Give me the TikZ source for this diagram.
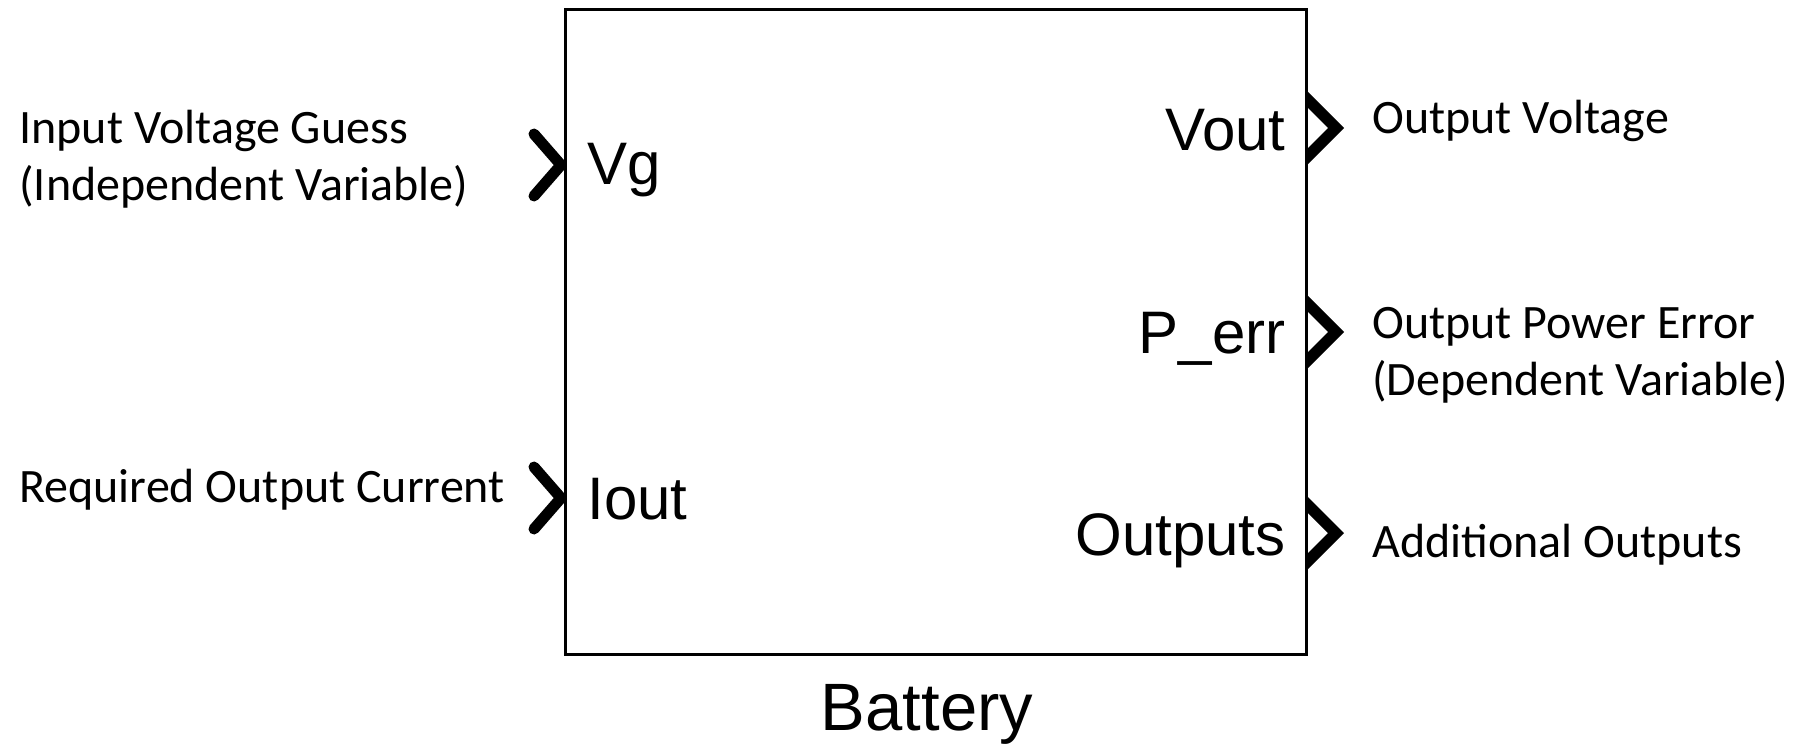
\documentclass[tikz,border=0pt]{standalone}
\usepackage{fontspec}
\setmainfont{Carlito}
\newfontfamily\blockfont{Liberation Sans}
\usetikzlibrary{positioning, calc, shadows}

\begin{document}
\begin{tikzpicture}[
    x=0.5pt, y=-0.5pt,
    block/.style={draw, fill=white, line width=1.5pt, inner sep=0pt,
        minimum width=370.25pt, minimum height=322.5pt,
        drop shadow={shadow xshift=1pt, shadow yshift=-1pt, fill=black!40, opacity=0.5}},
    portname/.style={font=\blockfont\fontsize{30}{36}\selectfont, inner sep=0pt},
    signal/.style={font=\fontsize{24}{28.5}\selectfont, inner sep=0pt, align=left},
    inport/.style={line width=5.5pt, line cap=round, line join=round},
    outport/.style={fill=black}
]
\useasboundingbox (0,0) rectangle (1795,746);

% --- Block ---
\node[block] (batt) at (935.75,331.5) {};
\node[font=\blockfont\fontsize{33.5}{40}\selectfont, inner sep=0pt, anchor=base] (battname) at (927,730) {Battery};

% --- Ports ---
\coordinate (vg) at (565,165);
\coordinate (iout) at (565,498);
\coordinate (vout) at (1307,128);
\coordinate (perr) at (1307,332);
\coordinate (outs) at (1307,533);

% inputs: open chevrons
\foreach \p in {vg, iout}
    \draw[inport] (\p) ++(-31,-31) -- ++(27,31) -- ++(-27,31);

% outputs: filled chevrons
\foreach \p in {vout, perr, outs}
    \fill[outport] (\p) ++(0,-37) -- ++(37,37) -- ++(-37,37) -- ++(0,-16) -- ++(21,-21) -- ++(-21,-21) -- cycle;

% --- Port names ---
\node[portname, anchor=base west] (vgname) at (587,184) {Vg};
\node[portname, anchor=base west] (ioutname) at (587,519) {Iout};
\node[portname, anchor=base east] (voutname) at (1286,150) {Vout};
\node[portname, anchor=base east] (perrname) at (1286,353) {P\_err};
\node[portname, anchor=base east] (outsname) at (1286,555) {Outputs};

% --- Signal descriptions (base = last line) ---
\node[signal, anchor=base west] (vgsig) at (19,200) {Input Voltage Guess\\(Independent Variable)};
\node[signal, anchor=base west] (ioutsig) at (19,502) {Required Output Current};
\node[signal, anchor=base west] (voutsig) at (1372,133) {Output Voltage};
\node[signal, anchor=base west] (perrsig) at (1372,395) {Output Power Error\\(Dependent Variable)};
\node[signal, anchor=base west] (outssig) at (1372,557) {Additional Outputs};

\end{tikzpicture}
\end{document}
